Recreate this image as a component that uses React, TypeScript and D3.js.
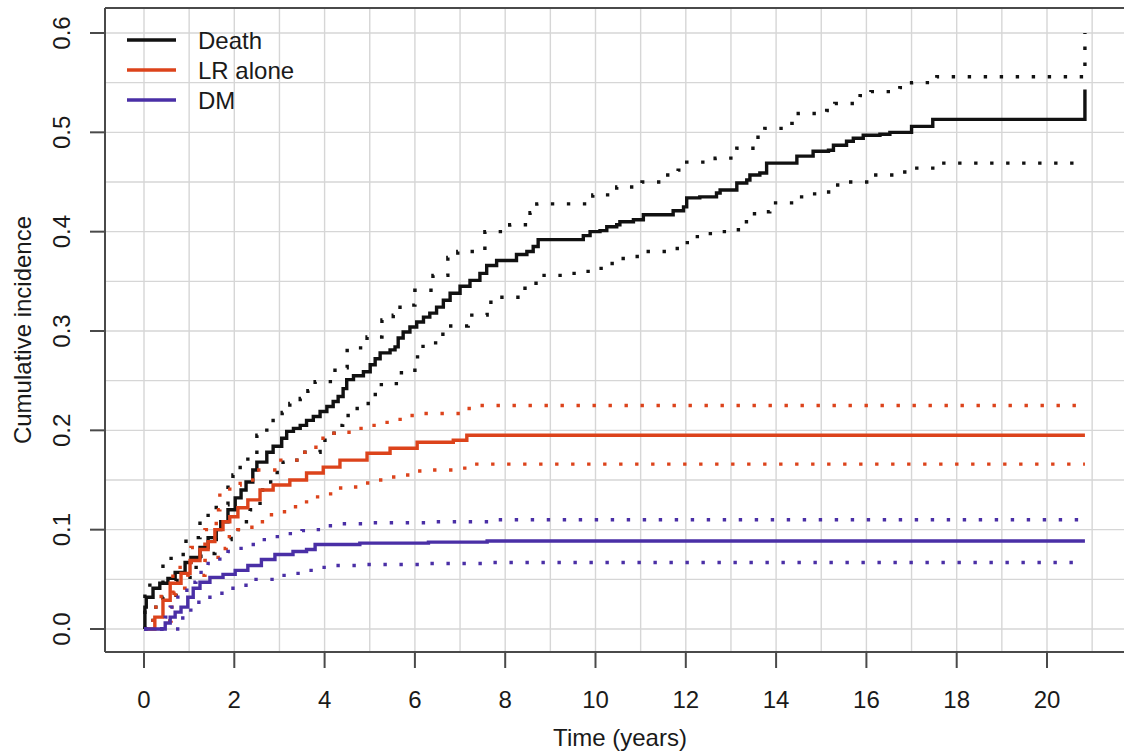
import React from 'react';
import * as d3 from 'd3';

// cumulative incidence estimates (step functions)
const deathTime = [0, 0.02, 0.05, 0.2, 0.35, 0.53, 0.69, 0.91, 1.04, 1.24, 1.42, 1.6, 1.7, 1.86, 2.02, 2.15, 2.26, 2.41, 2.5, 2.72, 2.86, 3.05, 3.16, 3.31, 3.46, 3.6, 3.75, 3.9, 4.05, 4.19, 4.3, 4.41, 4.49, 4.64, 4.86, 5.01, 5.12, 5.23, 5.45, 5.56, 5.63, 5.74, 5.89, 6.04, 6.19, 6.33, 6.48, 6.63, 6.78, 7.0, 7.22, 7.44, 7.59, 7.81, 8.25, 8.48, 8.62, 8.73, 9.73, 9.88, 10.1, 10.25, 10.47, 10.54, 10.84, 11.06, 11.72, 11.95, 12.02, 12.31, 12.68, 12.76, 13.13, 13.35, 13.42, 13.64, 13.79, 14.46, 14.82, 15.16, 15.27, 15.56, 15.71, 15.93, 16.3, 16.52, 17.0, 17.47, 20.84];
const deathEst = [0, 0.022, 0.032, 0.041, 0.046, 0.051, 0.057, 0.067, 0.072, 0.082, 0.092, 0.1, 0.108, 0.12, 0.132, 0.14, 0.148, 0.16, 0.168, 0.178, 0.184, 0.192, 0.199, 0.202, 0.205, 0.21, 0.214, 0.219, 0.224, 0.229, 0.234, 0.242, 0.251, 0.255, 0.259, 0.266, 0.272, 0.278, 0.281, 0.284, 0.293, 0.299, 0.304, 0.309, 0.314, 0.318, 0.324, 0.331, 0.338, 0.345, 0.351, 0.358, 0.366, 0.371, 0.377, 0.38, 0.385, 0.392, 0.396, 0.4, 0.401, 0.405, 0.407, 0.41, 0.412, 0.417, 0.421, 0.425, 0.434, 0.435, 0.439, 0.442, 0.449, 0.452, 0.457, 0.459, 0.469, 0.476, 0.481, 0.482, 0.487, 0.491, 0.494, 0.497, 0.498, 0.5, 0.506, 0.513, 0.543];

const deathUpTime = [0, 0.02, 0.13, 0.42, 0.6, 0.93, 1.24, 1.42, 1.6, 1.86, 1.97, 2.13, 2.3, 2.5, 2.72, 2.86, 3.06, 3.23, 3.46, 3.63, 3.79, 4.23, 4.5, 4.94, 5.27, 5.52, 5.67, 6.0, 6.4, 6.73, 6.95, 7.55, 8.1, 8.55, 8.7, 9.94, 10.47, 11.03, 11.6, 11.83, 12.02, 12.65, 13.13, 13.53, 13.75, 14.35, 14.49, 15.12, 15.3, 15.86, 16.1, 16.74, 17.0, 17.56, 20.84];
const deathUp = [0, 0.036, 0.047, 0.066, 0.075, 0.092, 0.11, 0.117, 0.125, 0.145, 0.155, 0.165, 0.175, 0.195, 0.202, 0.21, 0.218, 0.227, 0.232, 0.24, 0.249, 0.263, 0.283, 0.294, 0.311, 0.316, 0.326, 0.341, 0.356, 0.374, 0.38, 0.4, 0.407, 0.419, 0.428, 0.437, 0.445, 0.45, 0.457, 0.462, 0.47, 0.474, 0.484, 0.495, 0.504, 0.509, 0.519, 0.522, 0.529, 0.537, 0.541, 0.545, 0.55, 0.556, 0.6];

const deathLoTime = [0, 0.2, 0.42, 0.71, 1.02, 1.26, 1.57, 1.93, 2.13, 2.35, 2.57, 2.72, 2.95, 3.08, 3.3, 3.5, 3.9, 4.12, 4.3, 4.4, 4.63, 4.85, 5.05, 5.18, 5.49, 5.63, 6.0, 6.18, 6.62, 7.18, 7.6, 7.84, 8.33, 8.59, 8.77, 9.44, 9.77, 10.03, 10.28, 10.5, 10.83, 11.1, 11.69, 11.94, 12.14, 12.47, 12.76, 13.05, 13.24, 13.42, 13.71, 13.86, 14.46, 14.75, 15.04, 15.26, 15.57, 16.12, 16.7, 16.97, 17.59, 20.84];
const deathLo = [0, 0.022, 0.032, 0.049, 0.062, 0.076, 0.09, 0.1, 0.108, 0.12, 0.14, 0.148, 0.16, 0.168, 0.17, 0.178, 0.19, 0.197, 0.205, 0.215, 0.222, 0.227, 0.236, 0.246, 0.247, 0.258, 0.274, 0.288, 0.305, 0.316, 0.329, 0.334, 0.343, 0.348, 0.356, 0.358, 0.36, 0.363, 0.368, 0.373, 0.375, 0.38, 0.383, 0.389, 0.395, 0.398, 0.4, 0.402, 0.41, 0.418, 0.42, 0.429, 0.435, 0.438, 0.44, 0.447, 0.45, 0.457, 0.46, 0.464, 0.469, 0.469];

const lrTime = [0, 0.24, 0.42, 0.58, 0.82, 1.02, 1.24, 1.42, 1.57, 1.75, 1.9, 2.08, 2.3, 2.57, 2.86, 3.23, 3.6, 3.97, 4.34, 4.94, 5.45, 6.05, 6.85, 7.15, 20.84];
const lrEst = [0, 0.012, 0.029, 0.046, 0.056, 0.069, 0.08, 0.088, 0.1, 0.108, 0.113, 0.122, 0.13, 0.14, 0.145, 0.15, 0.157, 0.163, 0.17, 0.177, 0.182, 0.188, 0.19, 0.195, 0.195];

const lrUpTime = [0, 0.2, 0.38, 0.64, 1.04, 1.35, 1.6, 1.68, 1.9, 2.13, 2.5, 2.97, 3.5, 3.72, 3.9, 4.16, 4.45, 4.72, 5.0, 5.3, 5.6, 5.85, 6.15, 7.07, 7.4, 20.84];
const lrUp = [0, 0.022, 0.036, 0.062, 0.082, 0.1, 0.12, 0.137, 0.145, 0.15, 0.16, 0.17, 0.178, 0.183, 0.192, 0.197, 0.198, 0.202, 0.205, 0.208, 0.211, 0.215, 0.217, 0.222, 0.225, 0.225];

const lrLoTime = [0, 0.45, 0.6, 0.7, 0.9, 0.97, 1.35, 1.64, 1.71, 1.82, 2.08, 2.39, 2.75, 3.0, 3.3, 3.52, 3.79, 4.05, 4.27, 4.6, 4.85, 5.16, 5.45, 5.74, 6.05, 6.38, 7.04, 7.29, 20.84];
const lrLo = [0, 0.008, 0.022, 0.036, 0.041, 0.054, 0.069, 0.072, 0.081, 0.093, 0.1, 0.108, 0.115, 0.118, 0.123, 0.128, 0.133, 0.136, 0.142, 0.143, 0.147, 0.15, 0.153, 0.155, 0.159, 0.16, 0.162, 0.166, 0.166];

const dmTime = [0, 0.47, 0.58, 0.69, 0.82, 0.97, 1.09, 1.24, 1.46, 1.75, 2.02, 2.3, 2.6, 2.9, 3.3, 3.6, 3.79, 4.78, 6.3, 7.6, 20.84];
const dmEst = [0, 0.006, 0.012, 0.017, 0.022, 0.032, 0.041, 0.047, 0.052, 0.055, 0.059, 0.064, 0.07, 0.075, 0.078, 0.08, 0.085, 0.0865, 0.0875, 0.0886, 0.0886];

const dmUpTime = [0, 0.47, 0.58, 0.75, 0.95, 1.15, 1.42, 1.68, 1.86, 2.15, 2.35, 2.61, 2.9, 3.17, 3.5, 3.74, 4.05, 4.38, 5.05, 6.4, 7.82, 20.84];
const dmUp = [0, 0.012, 0.022, 0.036, 0.047, 0.057, 0.066, 0.074, 0.078, 0.083, 0.085, 0.09, 0.093, 0.096, 0.099, 0.1, 0.104, 0.106, 0.107, 0.108, 0.11, 0.11];

const dmLoTime = [0, 0.82, 0.97, 1.13, 1.37, 1.68, 1.93, 2.19, 2.41, 3.0, 3.3, 3.63, 3.94, 4.23, 4.94, 6.33, 7.66, 20.84];
const dmLo = [0, 0.011, 0.019, 0.027, 0.032, 0.036, 0.041, 0.044, 0.05, 0.054, 0.056, 0.059, 0.062, 0.064, 0.065, 0.066, 0.067, 0.067];

const legendLabels = ['Death', 'LR alone', 'DM'];
const seriesColors = ['#111111', '#dc431b', '#4a2fa6'];
const xTicks = [0, 2, 4, 6, 8, 10, 12, 14, 16, 18, 20];
const yTicks = [0, 0.1, 0.2, 0.3, 0.4, 0.5, 0.6];

const width = 1124;
const height = 755;
const box = { left: 105, right: 1135, top: 8, bottom: 652 };
const font = '"Liberation Sans", Arial, Helvetica, sans-serif';
const axisColor = '#4a4a4a';

export default function App() {
  const x = d3.scaleLinear().domain([0, 20]).range([144, 1047]);
  const y = d3.scaleLinear().domain([0, 0.6]).range([629, 33]);

  const line = d3
    .line<[number, number]>()
    .x((d) => x(d[0]))
    .y((d) => y(d[1]))
    .curve(d3.curveStepAfter);

  const zip = (t: number[], v: number[]) => t.map((ti, i) => [ti, v[i]] as [number, number]);

  const curves = [
    { est: zip(deathTime, deathEst), up: zip(deathUpTime, deathUp), lo: zip(deathLoTime, deathLo) },
    { est: zip(lrTime, lrEst), up: zip(lrUpTime, lrUp), lo: zip(lrLoTime, lrLo) },
    { est: zip(dmTime, dmEst), up: zip(dmUpTime, dmUp), lo: zip(dmLoTime, dmLo) },
  ];

  const gridX = d3.range(0, 22, 1);
  const gridY = d3.range(0, 0.651, 0.05);

  return (
    <svg
      width={width}
      height={height}
      style={{ position: 'absolute', left: 0, top: 0, background: '#fff' }}
      fontFamily={font}
    >
      <defs>
        <clipPath id="plotclip">
          <rect x={box.left} y={box.top} width={box.right - box.left} height={box.bottom - box.top} />
        </clipPath>
      </defs>

      <g clipPath="url(#plotclip)">
        {gridX.map((t) => (
          <line key={'gx' + t} x1={x(t)} x2={x(t)} y1={box.top} y2={box.bottom} stroke="#d6d6d6" strokeWidth={1.4} />
        ))}
        {gridY.map((v) => (
          <line key={'gy' + v} x1={box.left} x2={box.right} y1={y(v)} y2={y(v)} stroke="#d6d6d6" strokeWidth={1.4} />
        ))}

        {curves.map((c, i) => (
          <g key={'c' + i}>
            <path d={line(c.up) || ''} fill="none" stroke={seriesColors[i]} strokeWidth={3.4} strokeDasharray="3.4 12.6" />
            <path d={line(c.lo) || ''} fill="none" stroke={seriesColors[i]} strokeWidth={3.4} strokeDasharray="3.4 12.6" />
            <path d={line(c.est) || ''} fill="none" stroke={seriesColors[i]} strokeWidth={3.4} />
          </g>
        ))}
      </g>

      {/* frame: left, bottom, top (right side falls outside the picture) */}
      <line x1={box.left} x2={box.left} y1={box.top} y2={box.bottom} stroke={axisColor} strokeWidth={2} />
      <line x1={box.left} x2={width} y1={box.bottom} y2={box.bottom} stroke={axisColor} strokeWidth={2} />
      <line x1={box.left} x2={width} y1={box.top} y2={box.top} stroke={axisColor} strokeWidth={2} />

      {xTicks.map((t) => (
        <g key={'xt' + t}>
          <line x1={x(t)} x2={x(t)} y1={box.bottom} y2={box.bottom + 16} stroke={axisColor} strokeWidth={2} />
          <text x={x(t)} y={708} textAnchor="middle" fontSize={24} fill="#1a1a1a">
            {t}
          </text>
        </g>
      ))}

      {yTicks.map((v) => (
        <g key={'yt' + v}>
          <line x1={box.left - 15} x2={box.left} y1={y(v)} y2={y(v)} stroke={axisColor} strokeWidth={2} />
          <text
            transform={`translate(70, ${y(v)}) rotate(-90)`}
            textAnchor="middle"
            fontSize={24}
            fill="#1a1a1a"
          >
            {d3.format('.1f')(v)}
          </text>
        </g>
      ))}

      <text x={620} y={746} textAnchor="middle" fontSize={24} fill="#1a1a1a">
        Time (years)
      </text>
      <text transform={`translate(31, 330) rotate(-90)`} textAnchor="middle" fontSize={24} fill="#1a1a1a">
        Cumulative incidence
      </text>

      {legendLabels.map((lab, i) => (
        <g key={'lg' + i}>
          <line x1={127} x2={176} y1={40 + i * 30} y2={40 + i * 30} stroke={seriesColors[i]} strokeWidth={3.4} />
          <text x={198} y={49 + i * 30} fontSize={24} fill="#1a1a1a">
            {lab}
          </text>
        </g>
      ))}
    </svg>
  );
}
